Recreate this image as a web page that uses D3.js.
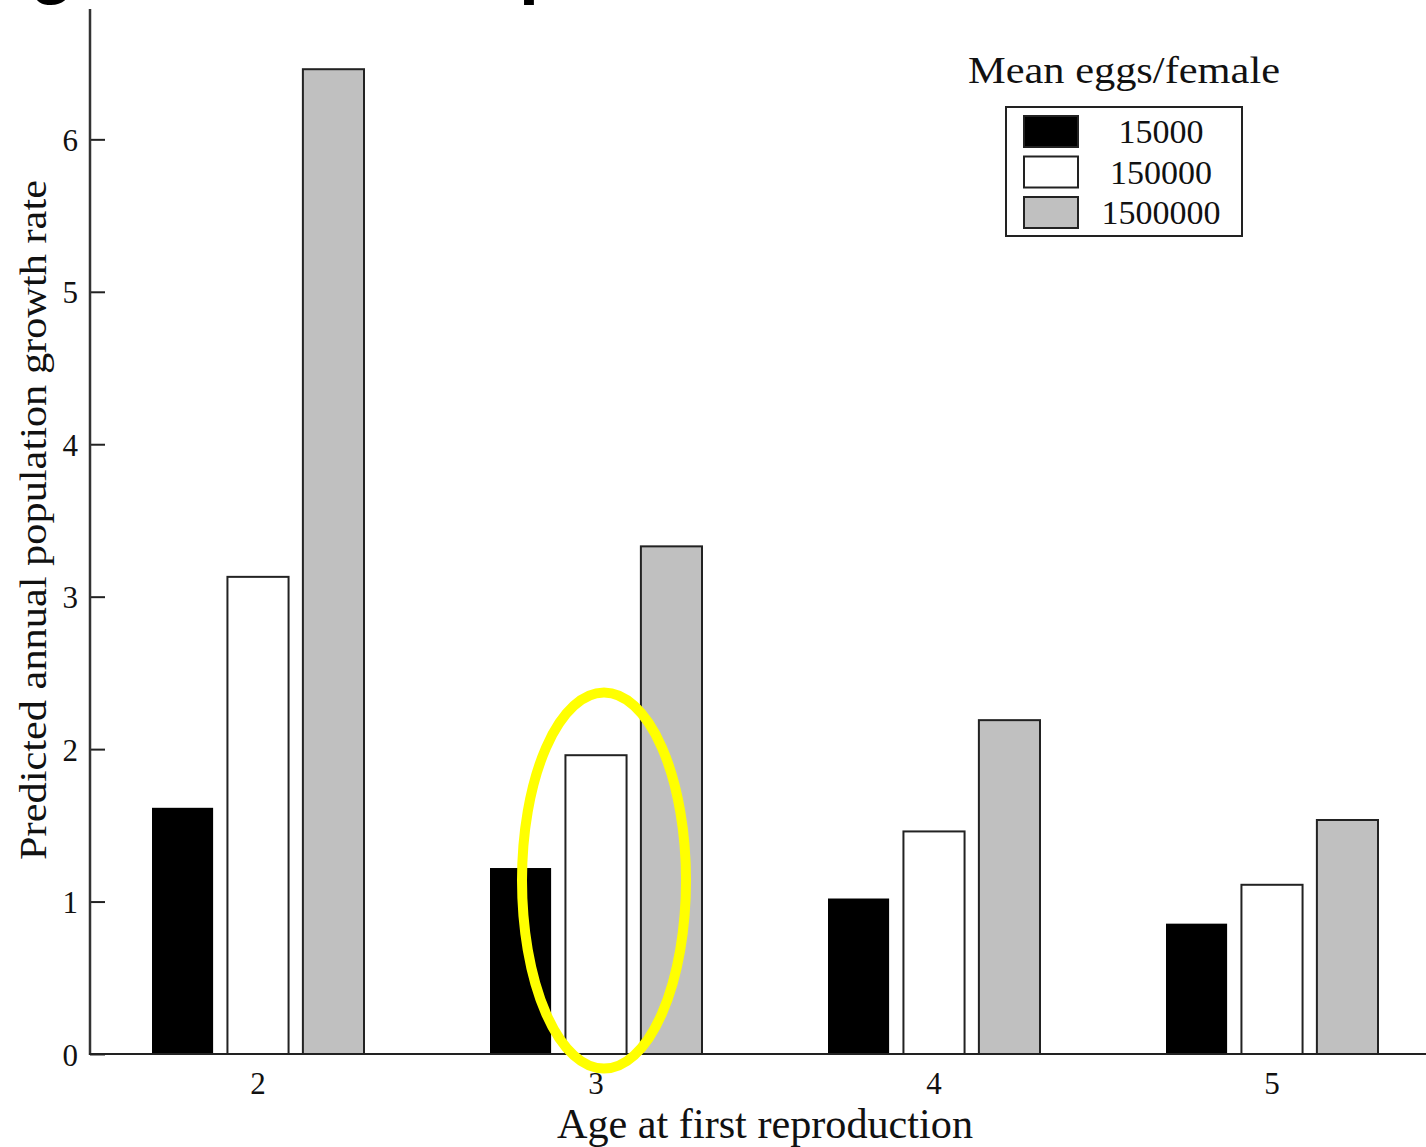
<!DOCTYPE html>
<html>
<head>
<meta charset="utf-8">
<script src="https://cdn.jsdelivr.net/npm/d3@7"></script>
<style>
  html, body { margin: 0; padding: 0; background: #fff; overflow: hidden; }
  svg { display: block; }
</style>
</head>
<body>
<svg id="chart" width="1426" height="1147"></svg>
<script>
// ---- data ----
const categories = ["2", "3", "4", "5"];
const seriesNames = ["15000", "150000", "1500000"];
const values15000 = [1.615, 1.22, 1.02, 0.855];
const values150000 = [3.13, 1.96, 1.46, 1.11];
const values1500000 = [6.46, 3.33, 2.19, 1.535];
const yTicks = [0, 1, 2, 3, 4, 5, 6];
const highlight = { category: "3", series: "150000" };

const seriesValues = [values15000, values150000, values1500000];
const fills = ["#000000", "#ffffff", "#c0c0c0"];

const svg = d3.select("#chart");
const serif = "'Liberation Serif', 'DejaVu Serif', serif";

const x0 = 89, x1 = 1441, yBase = 1054, yTop = 9;
const y = d3.scaleLinear().domain([0, 6.855]).range([yBase, yTop]);
const x = d3.scaleBand().domain(categories).range([x0, x1]).padding(0);
const xs = d3.scaleBand().domain(seriesNames).range([-106, 106]).paddingInner(0.19).paddingOuter(0);

// cropped title descenders at the top (title lies above the visible area)
svg.append("text")
  .attr("x", 30).attr("y", -10)
  .attr("font-family", "'Liberation Sans', Arial, sans-serif")
  .attr("font-weight", "bold")
  .attr("font-size", 72)
  .attr("fill", "#000")
  .text("g");
svg.append("text")
  .attr("x", 519).attr("y", -10)
  .attr("font-family", "'Liberation Sans', Arial, sans-serif")
  .attr("font-weight", "bold")
  .attr("font-size", 72)
  .attr("fill", "#000")
  .text("p");

// bars
const data = [];
categories.forEach((c, i) => {
  seriesNames.forEach((s, j) => {
    data.push({ c, s, j, v: seriesValues[j][i] });
  });
});

svg.append("g").selectAll("rect").data(data).join("rect")
  .attr("x", d => x(d.c) + x.bandwidth() / 2 + xs(d.s))
  .attr("y", d => y(d.v))
  .attr("width", xs.bandwidth())
  .attr("height", d => yBase - y(d.v))
  .attr("fill", d => fills[d.j])
  .attr("stroke", d => d.j === 0 ? "none" : "#222")
  .attr("stroke-width", 2);

// axes
const yAxis = d3.axisRight(y).tickValues(yTicks).tickSize(15).tickFormat(d3.format("d"));
const gy = svg.append("g").attr("transform", `translate(${90},0)`).call(yAxis);
gy.select(".domain").remove();
gy.selectAll(".tick line").attr("stroke", "#222").attr("stroke-width", 2);
gy.selectAll(".tick text")
  .attr("x", -12).attr("dy", "0.36em")
  .attr("text-anchor", "end")
  .attr("font-family", serif).attr("font-size", 31).attr("fill", "#111");

svg.append("line").attr("x1", 90).attr("x2", 90).attr("y1", y(6.855)).attr("y2", yBase + 1)
  .attr("stroke", "#333").attr("stroke-width", 2.5);

const xAxis = d3.axisBottom(x).tickSize(0);
const gx = svg.append("g").attr("transform", `translate(0,${yBase})`).call(xAxis);
gx.select(".domain").remove();
gx.selectAll(".tick text")
  .attr("y", 40).attr("dy", 0)
  .attr("font-family", serif).attr("font-size", 31).attr("fill", "#111");
svg.append("line").attr("x1", 89).attr("x2", 1426).attr("y1", yBase).attr("y2", yBase)
  .attr("stroke", "#222").attr("stroke-width", 2);

// axis titles
svg.append("text")
  .attr("transform", `translate(46,${(180 + 860) / 2}) rotate(-90)`)
  .attr("text-anchor", "middle")
  .attr("font-family", serif).attr("font-size", 38).attr("fill", "#111")
  .attr("textLength", 680).attr("lengthAdjust", "spacingAndGlyphs")
  .text("Predicted annual population growth rate");

svg.append("text")
  .attr("x", 765).attr("y", 1138)
  .attr("text-anchor", "middle")
  .attr("font-family", serif).attr("font-size", 42).attr("fill", "#111")
  .attr("textLength", 416).attr("lengthAdjust", "spacingAndGlyphs")
  .text("Age at first reproduction");

// legend
svg.append("text")
  .attr("x", 1124).attr("y", 83)
  .attr("text-anchor", "middle")
  .attr("font-family", serif).attr("font-size", 38).attr("fill", "#111")
  .attr("textLength", 312).attr("lengthAdjust", "spacingAndGlyphs")
  .text("Mean eggs/female");

const lg = svg.append("g");
lg.append("rect").attr("x", 1006).attr("y", 107).attr("width", 236).attr("height", 129)
  .attr("fill", "#fff").attr("stroke", "#222").attr("stroke-width", 2);
seriesNames.forEach((s, j) => {
  const ry = 116 + j * 40.5;
  lg.append("rect").attr("x", 1024).attr("y", ry).attr("width", 54).attr("height", 31)
    .attr("fill", fills[j]).attr("stroke", "#222").attr("stroke-width", 2);
  lg.append("text").attr("x", 1161).attr("y", ry + 27)
    .attr("text-anchor", "middle")
    .attr("font-family", serif).attr("font-size", 34).attr("fill", "#111")
    .text(s);
});

// highlight ellipse around the chosen bar
const hi = categories.indexOf(highlight.category);
const hj = seriesNames.indexOf(highlight.series);
const hcx = x(highlight.category) + x.bandwidth() / 2 + xs(highlight.series) + xs.bandwidth() / 2 + 8;
const hv = seriesValues[hj][hi];
svg.append("ellipse")
  .attr("cx", hcx)
  .attr("cy", (y(hv) + yBase) / 2 - 24)
  .attr("rx", 82)
  .attr("ry", 188)
  .attr("fill", "none")
  .attr("stroke", "#ffff00")
  .attr("stroke-width", 10);
</script>
</body>
</html>
